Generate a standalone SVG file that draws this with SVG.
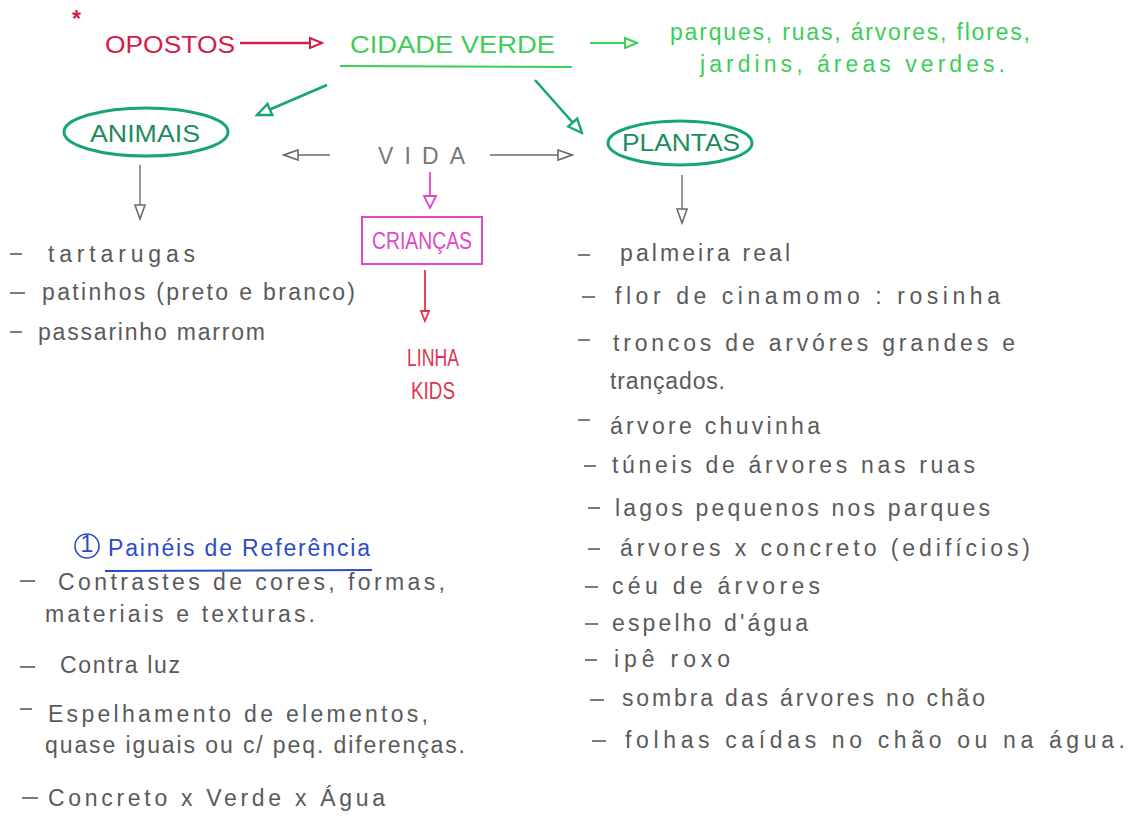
<svg xmlns="http://www.w3.org/2000/svg" width="1133" height="816" viewBox="0 0 1133 816">
<defs>
<style>
text{font-family:"Liberation Sans",Arial,sans-serif;font-size:23px}
.g{fill:#5a5a5a}
.red{fill:#d41c48}
.grn{fill:#3cce58}
.teal{fill:#1b8d5c}
.mag{fill:#e048c8}
.blue{fill:#2b4cc4}
.vida{fill:#777}
.dash{stroke:#5a5a5a;stroke-width:1.6}
</style>
<marker id="aRed" markerWidth="16" markerHeight="14" refX="14" refY="7" orient="auto" markerUnits="userSpaceOnUse"><path d="M2,2 L14,7 L2,12 z" fill="#fff" stroke="#d41c48" stroke-width="2"/></marker>
<marker id="aGrn" markerWidth="16" markerHeight="14" refX="14" refY="7" orient="auto" markerUnits="userSpaceOnUse"><path d="M2,2 L14,7 L2,12 z" fill="#fff" stroke="#3cce58" stroke-width="2"/></marker>
<marker id="aTeal" markerWidth="18" markerHeight="16" refX="16" refY="8" orient="auto" markerUnits="userSpaceOnUse"><path d="M2,2 L16,8 L2,14 z" fill="#fff" stroke="#17a577" stroke-width="2.4"/></marker>
<marker id="aGray" markerWidth="18" markerHeight="14" refX="16" refY="7" orient="auto" markerUnits="userSpaceOnUse"><path d="M2,2 L16,7 L2,12 z" fill="#fff" stroke="#6a6a6a" stroke-width="1.6"/></marker>
<marker id="aMag" markerWidth="16" markerHeight="16" refX="14" refY="8" orient="auto" markerUnits="userSpaceOnUse"><path d="M2,2 L14,8 L2,14 z" fill="#fff" stroke="#e048c8" stroke-width="1.8"/></marker>
<marker id="aRed2" markerWidth="14" markerHeight="12" refX="12" refY="6" orient="auto" markerUnits="userSpaceOnUse"><path d="M2,2 L12,6 L2,10 z" fill="#fff" stroke="#e0344d" stroke-width="1.8"/></marker>
</defs>
<rect width="1133" height="816" fill="#fff"/>

<g id="connectors" fill="none">
<line x1="240" y1="43" x2="322" y2="43" stroke="#d41c48" stroke-width="2.4" marker-end="url(#aRed)"/>
<line x1="590" y1="43" x2="637" y2="43" stroke="#3cce58" stroke-width="1.8" marker-end="url(#aGrn)"/>
<line x1="327" y1="85" x2="257" y2="115" stroke="#17a577" stroke-width="2.6" marker-end="url(#aTeal)"/>
<line x1="535" y1="80" x2="582" y2="133" stroke="#17a577" stroke-width="2.6" marker-end="url(#aTeal)"/>
<line x1="330" y1="155" x2="284" y2="155" stroke="#6a6a6a" stroke-width="1.6" marker-end="url(#aGray)"/>
<line x1="490" y1="155" x2="572" y2="155" stroke="#6a6a6a" stroke-width="1.6" marker-end="url(#aGray)"/>
<line x1="140" y1="165" x2="140" y2="219" stroke="#6a6a6a" stroke-width="1.4" marker-end="url(#aGray)"/>
<line x1="682" y1="175" x2="682" y2="223" stroke="#6a6a6a" stroke-width="1.4" marker-end="url(#aGray)"/>
<line x1="430" y1="172" x2="430" y2="208" stroke="#e048c8" stroke-width="1.8" marker-end="url(#aMag)"/>
<line x1="425" y1="270" x2="425" y2="321" stroke="#e0344d" stroke-width="1.8" marker-end="url(#aRed2)"/>
</g>

<g id="opostos">
<text x="72" y="27" class="red" font-size="20" font-weight="bold">*</text>
<text x="105" y="53" class="red" font-size="26" textLength="130" lengthAdjust="spacingAndGlyphs">OPOSTOS</text>
</g>

<g id="cidade-verde">
<text x="350" y="53" class="grn" font-size="23" textLength="205" lengthAdjust="spacingAndGlyphs">CIDADE VERDE</text>
<line x1="340" y1="66" x2="572" y2="67" stroke="#3cce58" stroke-width="2"/>
</g>

<g id="lista-cidade">
<text x="670" y="40" class="grn" font-size="24" textLength="360" lengthAdjust="spacing">parques, ruas, árvores, flores,</text>
<text x="700" y="72" class="grn" font-size="24" textLength="305" lengthAdjust="spacing">jardins, áreas verdes.</text>
</g>

<g id="animais">
<ellipse cx="146" cy="132" rx="82" ry="24" fill="none" stroke="#17a577" stroke-width="3"/>
<text x="90" y="142" class="teal" font-size="24" textLength="110" lengthAdjust="spacingAndGlyphs">ANIMAIS</text>
</g>

<g id="plantas">
<ellipse cx="680" cy="143" rx="72" ry="22" fill="none" stroke="#17a577" stroke-width="3"/>
<text x="622" y="151" class="teal" font-size="22" textLength="118" lengthAdjust="spacingAndGlyphs">PLANTAS</text>
</g>

<g id="vida">
<text x="378" y="164" class="vida" font-size="24" textLength="87" lengthAdjust="spacing">VIDA</text>
</g>

<g id="criancas">
<rect x="362" y="217" width="120" height="47" fill="none" stroke="#e048c8" stroke-width="2"/>
<text x="372" y="249" class="mag" font-size="19" textLength="100" lengthAdjust="spacingAndGlyphs">CRIANÇAS</text>
</g>

<g id="linha-kids">
<text x="407" y="366" fill="#e0344d" font-size="19" textLength="52" lengthAdjust="spacingAndGlyphs">LINHA</text>
<text x="411" y="399" fill="#e0344d" font-size="19" textLength="44" lengthAdjust="spacingAndGlyphs">KIDS</text>
</g>

<g id="lista-animais" class="g">
<line x1="10" y1="254" x2="22" y2="254" class="dash"/>
<text x="48" y="262" textLength="147" lengthAdjust="spacing">tartarugas</text>
<line x1="10" y1="293" x2="25" y2="293" class="dash"/>
<text x="42" y="300" textLength="313" lengthAdjust="spacing">patinhos (preto e branco)</text>
<line x1="10" y1="332" x2="22" y2="332" class="dash"/>
<text x="38" y="340" textLength="227" lengthAdjust="spacing">passarinho marrom</text>
</g>

<g id="lista-plantas" class="g">
<line x1="578" y1="255" x2="590" y2="255" class="dash"/>
<text x="620" y="261" textLength="170" lengthAdjust="spacing">palmeira real</text>
<line x1="582" y1="297" x2="595" y2="297" class="dash"/>
<text x="615" y="304" textLength="385" lengthAdjust="spacing">flor de cinamomo : rosinha</text>
<line x1="578" y1="340" x2="590" y2="340" class="dash"/>
<text x="613" y="351" textLength="402" lengthAdjust="spacing">troncos de arvóres grandes e</text>
<text x="610" y="389" textLength="115" lengthAdjust="spacing">trançados.</text>
<line x1="578" y1="420" x2="590" y2="420" class="dash"/>
<text x="610" y="434" textLength="210" lengthAdjust="spacing">árvore chuvinha</text>
<line x1="584" y1="466" x2="596" y2="466" class="dash"/>
<text x="612" y="473" textLength="363" lengthAdjust="spacing">túneis de árvores nas ruas</text>
<line x1="588" y1="508" x2="600" y2="508" class="dash"/>
<text x="615" y="516" textLength="375" lengthAdjust="spacing">lagos pequenos nos parques</text>
<line x1="588" y1="549" x2="600" y2="549" class="dash"/>
<text x="620" y="556" textLength="410" lengthAdjust="spacing">árvores x concreto (edifícios)</text>
<line x1="585" y1="587" x2="598" y2="587" class="dash"/>
<text x="612" y="594" textLength="208" lengthAdjust="spacing">céu de árvores</text>
<line x1="585" y1="624" x2="598" y2="624" class="dash"/>
<text x="612" y="631" textLength="196" lengthAdjust="spacing">espelho d'água</text>
<line x1="585" y1="660" x2="597" y2="660" class="dash"/>
<text x="614" y="667" textLength="116" lengthAdjust="spacing">ipê roxo</text>
<line x1="590" y1="700" x2="604" y2="700" class="dash"/>
<text x="622" y="706" textLength="363" lengthAdjust="spacing">sombra das árvores no chão</text>
<line x1="592" y1="741" x2="606" y2="741" class="dash"/>
<text x="625" y="748" textLength="500" lengthAdjust="spacing">folhas caídas no chão ou na água.</text>
</g>

<g id="paineis">
<circle cx="87" cy="546" r="12" fill="none" stroke="#2b4cc4" stroke-width="1.6"/>
<text x="87" y="552" class="blue" font-size="16" text-anchor="middle">1</text>
<text x="108" y="556" class="blue" font-size="27" textLength="262" lengthAdjust="spacing">Painéis de Referência</text>
<line x1="105" y1="571" x2="372" y2="570" stroke="#2b4cc4" stroke-width="2"/>
</g>

<g id="lista-paineis" class="g">
<line x1="20" y1="581" x2="35" y2="581" class="dash"/>
<text x="58" y="590" textLength="387" lengthAdjust="spacing">Contrastes de cores, formas,</text>
<text x="45" y="622" textLength="270" lengthAdjust="spacing">materiais e texturas.</text>
<line x1="20" y1="667" x2="35" y2="667" class="dash"/>
<text x="60" y="673" textLength="120" lengthAdjust="spacing">Contra luz</text>
<line x1="20" y1="709" x2="32" y2="709" class="dash"/>
<text x="48" y="722" textLength="380" lengthAdjust="spacing">Espelhamento de elementos,</text>
<text x="45" y="753" textLength="420" lengthAdjust="spacing">quase iguais ou c/ peq. diferenças.</text>
<line x1="22" y1="798" x2="38" y2="798" class="dash"/>
<text x="48" y="806" textLength="337" lengthAdjust="spacing">Concreto x Verde x Água</text>
</g>
</svg>
